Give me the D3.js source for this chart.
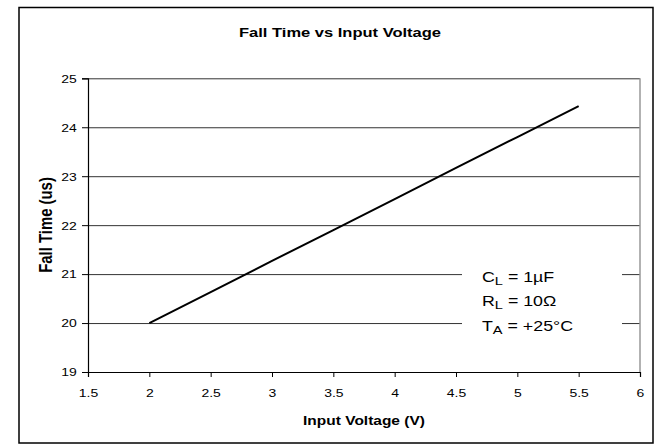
<!DOCTYPE html>
<html>
<head>
<meta charset="utf-8">
<script src="https://cdn.jsdelivr.net/npm/d3@7"></script>
<style>
  html, body { margin: 0; padding: 0; background: #fff; }
  svg { display: block; }
  text { font-family: "Liberation Sans", Arial, sans-serif; fill: #000; }
</style>
</head>
<body>
<svg id="chart" width="662" height="444"></svg>
<script>
// ---- data ----
const voltage = [2, 2.5, 3, 3.5, 4, 4.5, 5, 5.5];
const fallTime = [20.0, 20.63, 21.27, 21.9, 22.53, 23.17, 23.8, 24.43];
const xTicks = [1.5, 2, 2.5, 3, 3.5, 4, 4.5, 5, 5.5, 6];
const yTicks = [19, 20, 21, 22, 23, 24, 25];
const titleText = "Fall Time vs Input Voltage";
const xTitle = "Input Voltage (V)";
const yTitle = "Fall Time (us)";
const notes = [
  { main: "C", sub: "L", rest: " = 1\u00B5F" },
  { main: "R", sub: "L", rest: " = 10\u03A9" },
  { main: "T", sub: "A", rest: " = +25\u00B0C" }
];

// ---- layout ----
const SX = 1.27; // horizontal text stretch of reference
const svg = d3.select("#chart");
const pLeft = 88, pRight = 640, pTop = 78.3, pBottom = 372;

const x = d3.scaleLinear().domain([1.5, 6]).range([pLeft, pRight]);
const y = d3.scaleLinear().domain([19, 25]).range([pBottom, pTop]);

// outer frame
svg.append("rect")
  .attr("x", 19).attr("y", 7.5).attr("width", 634).attr("height", 435.5)
  .attr("fill", "#fff").attr("stroke", "#000").attr("stroke-width", 1.5);

// gridlines
svg.append("g")
  .attr("transform", `translate(${pLeft},0)`)
  .call(d3.axisLeft(y).tickValues(yTicks.filter(v => v > 19)).tickSize(-(pRight - pLeft)).tickFormat(""))
  .call(g => g.select(".domain").remove())
  .call(g => g.selectAll("line").attr("stroke", "#333").attr("stroke-width", 1));

// right border of plot area
svg.append("line")
  .attr("x1", pRight).attr("x2", pRight).attr("y1", pTop).attr("y2", pBottom)
  .attr("stroke", "#999").attr("stroke-width", 1.5);

// annotation box (covers gridlines)
svg.append("rect")
  .attr("x", 462).attr("y", 262).attr("width", 160).attr("height", 80)
  .attr("fill", "#fff");

const noteY = [281.5, 306, 330.5];
notes.forEach((n, i) => {
  const g = svg.append("g").attr("transform", `translate(482,${noteY[i]}) scale(${SX},1)`);
  const t = g.append("text").attr("font-size", 14);
  t.append("tspan").text(n.main);
  t.append("tspan").attr("font-size", 11.5).attr("dy", 3).text(n.sub);
  t.append("tspan").attr("dy", -3).text(n.rest);
});

// data line
svg.append("path")
  .datum(voltage.map((v, i) => [v, fallTime[i]]))
  .attr("fill", "none").attr("stroke", "#000").attr("stroke-width", 2)
  .attr("d", d3.line().x(d => x(d[0])).y(d => y(d[1])));

// x axis
svg.append("g")
  .attr("transform", `translate(0,${pBottom})`)
  .call(d3.axisBottom(x).tickValues(xTicks).tickSize(5).tickPadding(4).tickFormat(d3.format("")))
  .call(g => g.select(".domain").attr("stroke", "#000").attr("stroke-width", 1.2))
  .call(g => g.selectAll(".tick line").attr("stroke", "#000"))
  .call(g => g.selectAll(".tick text")
    .attr("font-size", 11).attr("font-family", '"Liberation Sans", Arial, sans-serif')
    .attr("fill", "#000").attr("y", 21).attr("dy", "0.35em")
    .attr("transform", `scale(${SX},1)`));

// y axis
svg.append("g")
  .attr("transform", `translate(${pLeft},0)`)
  .call(d3.axisLeft(y).tickValues(yTicks).tickSize(6).tickFormat(d3.format("")))
  .call(g => g.select(".domain").attr("stroke", "#000").attr("stroke-width", 1.2))
  .call(g => g.selectAll(".tick line").attr("stroke", "#000"))
  .call(g => g.selectAll(".tick text")
    .attr("font-size", 11).attr("font-family", '"Liberation Sans", Arial, sans-serif')
    .attr("fill", "#000").attr("x", -8.9).attr("dy", "0.35em")
    .attr("transform", `scale(${SX},1)`));

// titles
svg.append("g").attr("transform", `translate(340,36.5) scale(${SX},1)`)
  .append("text").attr("text-anchor", "middle").attr("font-size", 13).attr("font-weight", "bold")
  .text(titleText);

svg.append("g").attr("transform", `translate(364,425) scale(${SX},1)`)
  .append("text").attr("text-anchor", "middle").attr("font-size", 12.2).attr("font-weight", "bold")
  .text(xTitle);

svg.append("g").attr("transform", `translate(52,225) scale(${SX},1) rotate(-90)`)
  .append("text").attr("text-anchor", "middle").attr("font-size", 14.9).attr("font-weight", "bold")
  .text(yTitle);
</script>
</body>
</html>
